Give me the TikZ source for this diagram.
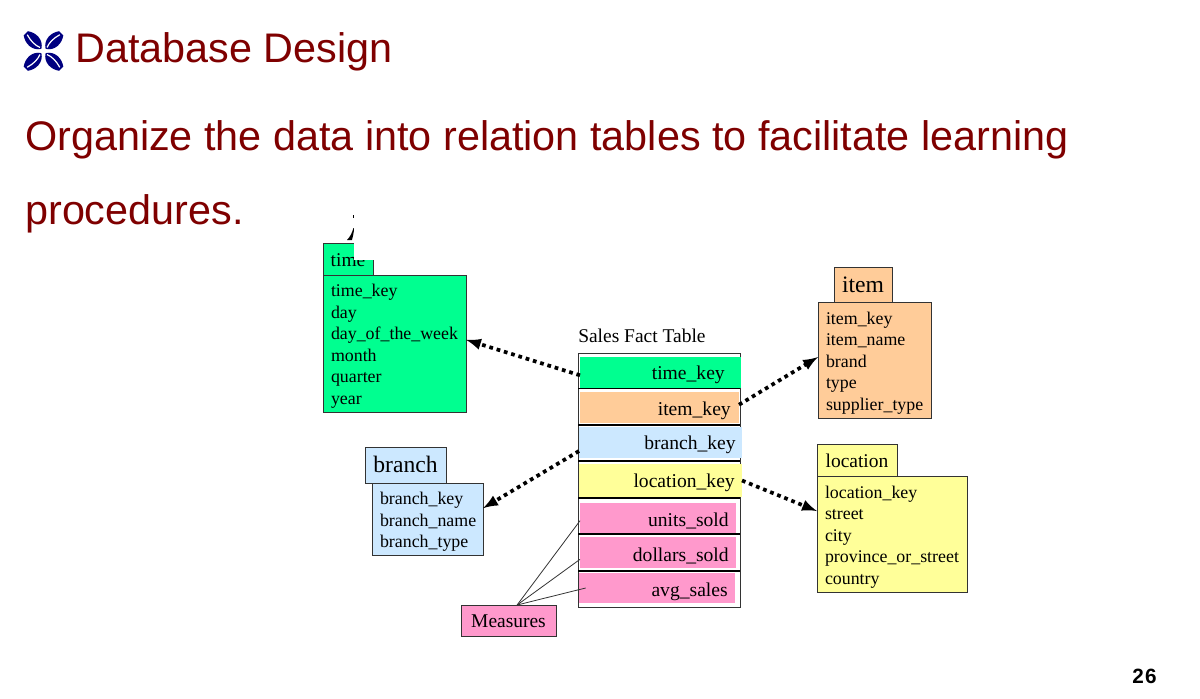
\documentclass[tikz,border=0pt]{standalone}
\usepackage{fontspec}
\setmainfont{Liberation Sans}
\newfontfamily\tablefont{Liberation Serif}
\usetikzlibrary{arrows, positioning}
\definecolor{titlered}{RGB}{127,0,0}
\definecolor{iconblue}{RGB}{0,0,128}
\definecolor{tablegreen}{RGB}{0,255,144}
\definecolor{tableorange}{RGB}{255,204,153}
\definecolor{tableblue}{RGB}{204,232,255}
\definecolor{tableyellow}{RGB}{255,255,153}
\definecolor{tablepink}{RGB}{255,153,204}
\tikzset{
  titletext/.style={anchor=base west,inner sep=0,text=titlered,font=\fontsize{31}{36}\selectfont},
  tablebody/.style={draw=black!80,line width=0.7pt,anchor=north west,inner xsep=6pt,inner ysep=0,outer sep=0,align=left,execute at begin node=\rule{0pt}{13.5pt},font=\tablefont\fontsize{13.4}{16.1}\selectfont},
  tablehead/.style={draw=black!80,line width=0.7pt,anchor=north west,inner sep=0,outer sep=0,text height=11pt,text depth=0pt,font=\tablefont\fontsize{14.6}{17}\selectfont},
  bighead/.style={tablehead,font=\tablefont\fontsize{17.7}{20}\selectfont},
  keycell/.style={anchor=north west,inner sep=0,outer sep=0},
  keytext/.style={anchor=base east,inner sep=0,font=\tablefont\fontsize{14.7}{17}\selectfont},
  sepline/.style={line width=1.1pt,color=black},
  dotarrow/.style={line width=2.8pt,dash pattern=on 2.8pt off 2.9pt,-latex},
  leaf/.pic={
    \fill[iconblue] (3,0) .. controls (8,-8) and (18,-8) .. (25,-3) -- (25,3) .. controls (18,8) and (8,8) .. (3,0) -- cycle;
    \draw[white,line width=0.9pt] (5,0) .. controls (10,-2) and (16,-2) .. (23,0);
  }
}
\begin{document}
\begin{tikzpicture}[x=0.75pt,y=-0.75pt]
\fill[white] (0,0) rectangle (1200,699);
\useasboundingbox (0,0) rectangle (1200,699);
%slide header
\pic[rotate=45] at (43.5,51) {leaf};
\pic[rotate=135] at (43.5,51) {leaf};
\pic[rotate=225] at (43.5,51) {leaf};
\pic[rotate=315] at (43.5,51) {leaf};
\node[titletext] (heading) at (75,63) {Database Design};
\node[titletext] (lineone) at (25,151) {Organize the data into relation tables to facilitate learning};
\node[titletext] (linetwo) at (25,224) {procedures.};
\node[anchor=base east,inner sep=0,font=\bfseries\fontsize{15.5}{18}\selectfont] (pagenum) at (1157,683) {2\kern1pt 6};
%time table
\node[tablehead,fill=tablegreen,minimum width=37.5pt,minimum height=24pt] (timehead) at (323,243) {time};
\node[tablebody,fill=tablegreen,text width=95.25pt,minimum height=102.75pt] (timebody) at (323,275) {time\_key\\day\\day\_of\_the\_week\\month\\quarter\\year};
\fill[black] (353.5,228) .. controls (352,233) and (350,237) .. (347,240) -- (352,240) .. controls (353,236) and (354,232) .. (354,228) -- cycle;
\fill[black] (352.5,215) rectangle (354,218);
\fill[white] (354,210) rectangle (376,260);
%item table
\node[bighead,fill=tableorange,minimum width=43.5pt,minimum height=27pt] (itemhead) at (834,267) {item};
\node[tablebody,fill=tableorange,text width=72.75pt,minimum height=87pt] (itembody) at (818,302) {item\_key\\item\_name\\brand\\type\\supplier\_type};
%branch table
\node[bighead,fill=tableblue,minimum width=60.75pt,minimum height=27pt] (branchhead) at (365,447) {branch};
\node[tablebody,fill=tableblue,text width=71.25pt,minimum height=54pt] (branchbody) at (372,483) {branch\_key\\branch\_name\\branch\_type};
%location table
\node[tablehead,fill=tableyellow,minimum width=60pt,minimum height=24pt] (locationhead) at (817,444) {location};
\node[tablebody,fill=tableyellow,text width=100.5pt,minimum height=87pt] (locationbody) at (817,476) {location\_key\\street\\city\\province\_or\_street\\country};
%fact table
\node[anchor=base west,inner sep=0,font=\tablefont\fontsize{14.6}{17}\selectfont] (facttitle) at (578,342) {Sales Fact Table};
\node[draw=black!80,line width=0.7pt,anchor=north west,inner sep=0,outer sep=0,minimum width=121.5pt,minimum height=190.5pt] (facttable) at (578,353) {};
\draw[sepline] (578,388.5) -- (740,388.5);
\draw[sepline] (578,425) -- (740,425);
\draw[sepline] (578,461) -- (740,461);
\draw[sepline] (578,498) -- (740,498);
\draw[sepline] (578,534) -- (740,534);
\draw[sepline] (578,571) -- (740,571);
\node[keycell,fill=tablegreen,minimum width=120.75pt,minimum height=23.25pt] (timecell) at (580,357) {};
\node[keycell,fill=tableorange,minimum width=119.25pt,minimum height=23.25pt] (itemcell) at (580,392) {};
\node[keycell,fill=tableblue,minimum width=122.25pt,minimum height=23.25pt] (branchcell) at (579,427) {};
\node[keycell,fill=tableyellow,minimum width=122.25pt,minimum height=24.75pt] (locationcell) at (579,464) {};
\node[keycell,fill=tablepink,minimum width=117pt,minimum height=22.5pt] (unitscell) at (580,503) {};
\node[keycell,fill=tablepink,minimum width=117pt,minimum height=23.25pt] (dollarscell) at (580,537) {};
\node[keycell,fill=tablepink,minimum width=117pt,minimum height=22.5pt] (avgcell) at (579,573) {};
\node[keytext] (timetext) at (725,379) {time\_key};
\node[keytext] (itemtext) at (731,415) {item\_key};
\node[keytext] (branchtext) at (736,449) {branch\_key};
\node[keytext] (locationtext) at (735,487) {location\_key};
\node[keytext] (unitstext) at (729,526) {units\_sold};
\node[keytext] (dollarstext) at (729,561) {dollars\_sold};
\node[keytext] (avgtext) at (728,596) {avg\_sales};
%measures
\node[tablehead,fill=tablepink,minimum width=71.25pt,minimum height=23.25pt] (measures) at (461,605) {Measures};
\draw[line width=0.6pt,color=black!80] (measures.61) -- (unitscell.182);
\draw[line width=0.6pt,color=black!80] (measures.61) -- (dollarscell.185);
\draw[line width=0.6pt,color=black!80] (measures.61) -- ([xshift=5pt]avgcell.west);
%arrows between
\draw[dotarrow] (timecell.182.5) -- (timebody.3.5);
\draw[dotarrow] (itemcell.2) -- (itembody.177);
\draw[dotarrow] (branchcell.186.6) -- (branchbody.11.2);
\draw[dotarrow] (locationcell.east) -- (locationbody.163.7);
\end{tikzpicture}
\end{document}
